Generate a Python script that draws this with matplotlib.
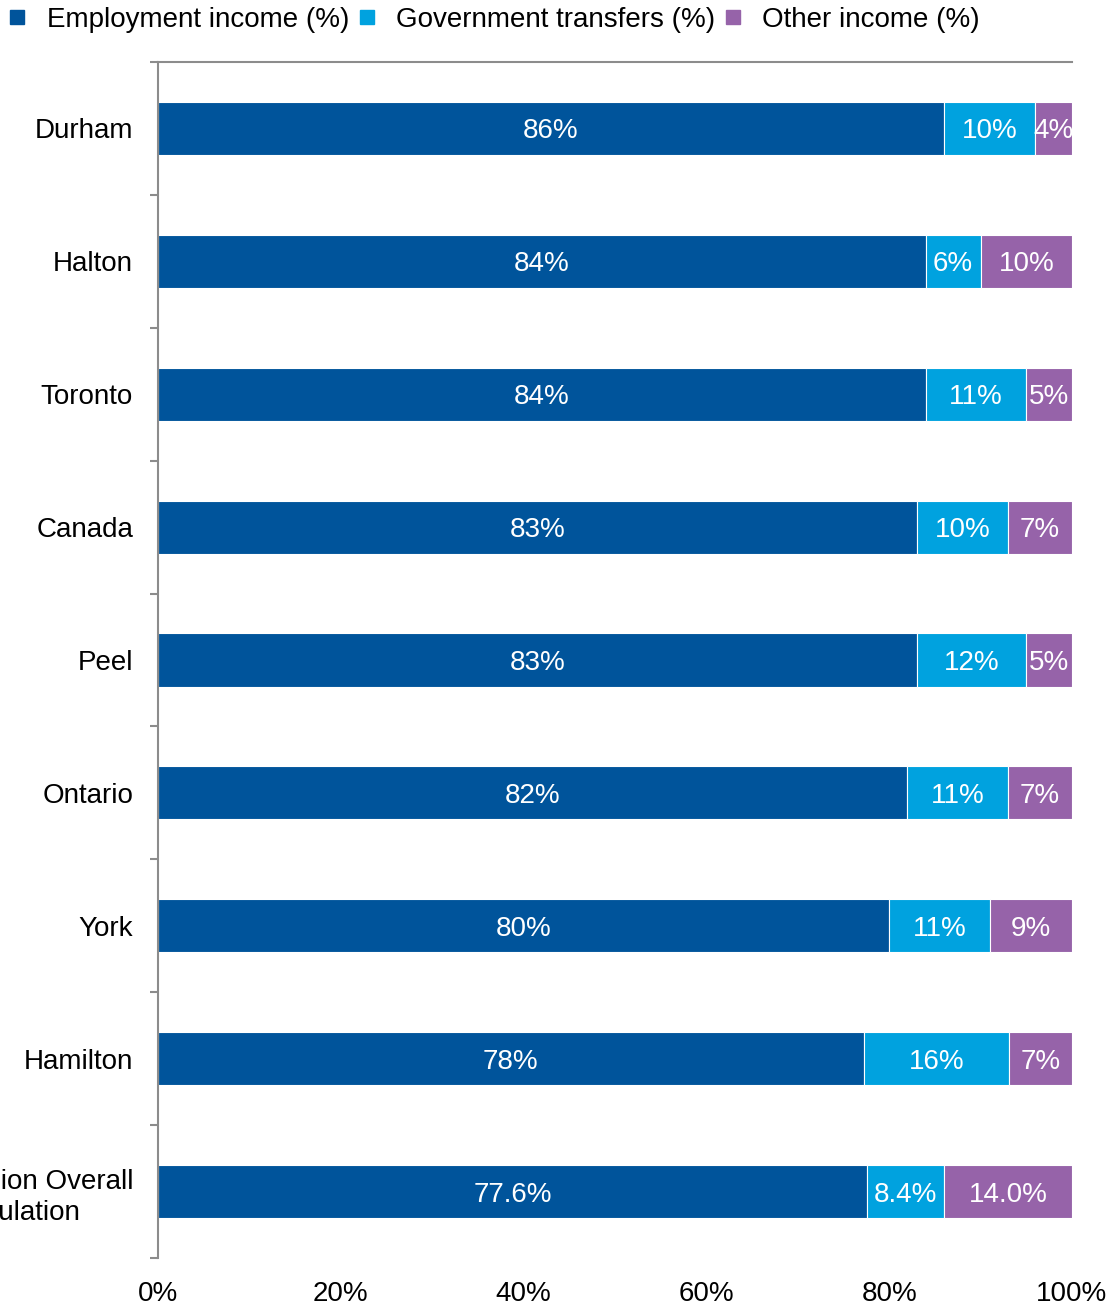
import numpy as np
import matplotlib
matplotlib.use('Agg')
import matplotlib.pyplot as plt
from matplotlib.lines import Line2D

plt.rcParams['font.family'] = ['Liberation Sans', 'DejaVu Sans']

# income source shares by region (each row is rescaled to 100%)
regions = ['Durham', 'Halton', 'Toronto', 'Canada', 'Peel', 'Ontario', 'York',
           'Hamilton', 'Region Overall\nPopulation']
employment = [86, 84, 84, 83, 83, 82, 80, 78, 77.6]
government = [10, 6, 11, 10, 12, 11, 11, 16, 8.4]
other = [4, 10, 5, 7, 5, 7, 9, 7, 14.0]
decimals = [0, 0, 0, 0, 0, 0, 0, 0, 1]

series_names = ['Employment income (%)', 'Government transfers (%)', 'Other income (%)']
colors = ['#00549B', '#00A2DF', '#9663A9']
grey = '#8C8C8C'

values = np.array([employment, government, other], dtype=float)
shares = values / values.sum(axis=0) * 100

fig = plt.figure(figsize=(11.18, 13.09), dpi=100)
ax = fig.add_axes([158/1118, 1 - 1258/1309, (1072-158)/1118, (1258-62)/1309])

y = np.arange(len(regions))
left = np.zeros(len(regions))
for k in range(3):
    ax.barh(y, shares[k], left=left, height=0.4, color=colors[k],
            edgecolor='white', linewidth=0.8)
    for i in range(len(regions)):
        txt = f'{values[k, i]:.{decimals[i]}f}%'
        ax.text(left[i] + shares[k, i] / 2, y[i], txt, ha='center',
                va='center_baseline', color='white', fontsize=20)
    left += shares[k]

ax.set_xlim(0, 100)
ax.set_ylim(len(regions) - 0.5, -0.5)

# x axis: percent labels only
ax.set_xticks(np.arange(0, 101, 20))
ax.set_xticklabels([f'{v}%' for v in range(0, 101, 20)])
ax.tick_params(axis='x', length=0, labelsize=20, pad=16.5)

# y axis: tick marks between categories, labels at the bar centres
ax.set_yticks(np.arange(-0.5, len(regions), 1.0))
ax.set_yticklabels([])
ax.tick_params(axis='y', which='major', length=6, width=1.5, color=grey, direction='out')
ax.set_yticks(y, minor=True)
ax.set_yticklabels(regions, minor=True)
ax.tick_params(axis='y', which='minor', length=0, labelsize=20, pad=18)
for lab in ax.get_yticklabels(minor=True):
    lab.set_multialignment('left')
    lab.set_linespacing(1.25)

for side in ['right', 'bottom']:
    ax.spines[side].set_visible(False)
for side in ['left', 'top']:
    ax.spines[side].set_color(grey)
    ax.spines[side].set_linewidth(1.5)

handles = [Line2D([], [], linestyle='none', marker='s', markersize=10,
                  markerfacecolor=c, markeredgecolor=c) for c in colors]
fig.legend(handles, series_names, loc='center left',
           bbox_to_anchor=(3.6/1118, 1 - 20/1309), ncol=3, frameon=False,
           fontsize=20, handlelength=1.0, handletextpad=0.56,
           columnspacing=0.13, borderpad=0, borderaxespad=0)

fig.savefig('out.png', dpi=100)
